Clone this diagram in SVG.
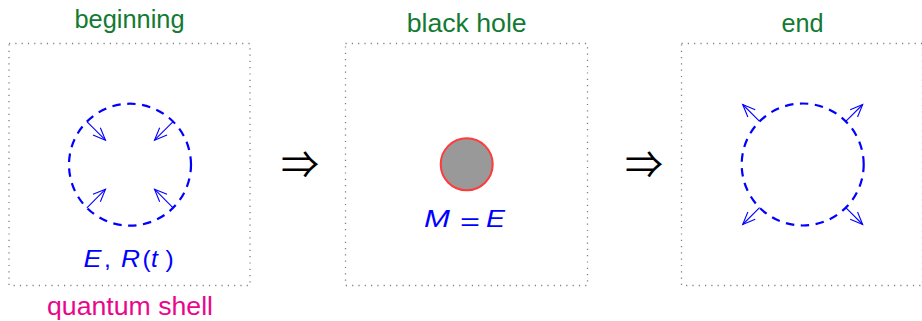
<svg xmlns="http://www.w3.org/2000/svg" width="922" height="321" viewBox="0 0 922 321">
<style>
.frame{fill:none;stroke:#808080;stroke-width:1.3;stroke-dasharray:1.2 5.1}
.title{font-family:"Liberation Sans",Arial,sans-serif;font-size:26.5px;fill:#127a32;text-anchor:middle}
.shell{fill:none;stroke:#0000ff;stroke-width:2.2;stroke-dasharray:8.5 6.5}
.arr{fill:none;stroke:#0000ff;stroke-width:1.1;marker-end:url(#head)}
.math{font-family:"Liberation Sans",Arial,sans-serif;font-size:24.5px;fill:#0000ff}
.it{font-style:italic}
.impl{font-family:"Noto Sans CJK JP","DejaVu Sans",sans-serif;font-size:38px;fill:#000;text-anchor:middle}
</style>
<defs>
<marker id="head" markerUnits="userSpaceOnUse" markerWidth="16" markerHeight="14" refX="13.5" refY="7" orient="auto">
<path d="M1,1.8 L13.5,7 L1,12.2" fill="none" stroke="#0000ff" stroke-width="1.1"/>
</marker>
</defs>

<g id="beginning">
<rect class="frame" x="9" y="43.5" width="241" height="242"/>
<text class="title" x="129.5" y="28.3" textLength="110" lengthAdjust="spacingAndGlyphs">beginning</text>
<path class="shell" d="M191,164.7 A61,61 0 0 0 69,164.7 A61,61 0 0 0 191,164.7"/>
<text class="math" y="267"><tspan class="it" x="83.5" textLength="18" lengthAdjust="spacingAndGlyphs">E</tspan><tspan x="104">,</tspan><tspan class="it" x="121" textLength="19" lengthAdjust="spacingAndGlyphs">R</tspan><tspan x="142.5">(</tspan><tspan class="it" x="151">t</tspan><tspan x="165.5">)</tspan></text>
<text class="title" x="130" y="315" style="fill:#e8078a" textLength="166" lengthAdjust="spacingAndGlyphs">quantum shell</text>
</g>

<g id="blackhole">
<rect class="frame" x="345.5" y="43.5" width="242" height="242"/>
<text class="title" x="466.7" y="32" textLength="120" lengthAdjust="spacingAndGlyphs">black hole</text>
<circle cx="466.7" cy="164.3" r="26" fill="#999999" stroke="#ff3b3b" stroke-width="2"/>
<text class="math" y="227.3"><tspan class="it" x="424" textLength="26" lengthAdjust="spacingAndGlyphs">M</tspan><tspan x="460" dy="3" textLength="20" lengthAdjust="spacingAndGlyphs">=</tspan><tspan class="it" x="486" dy="-3" textLength="19" lengthAdjust="spacingAndGlyphs">E</tspan></text>
</g>

<g id="end">
<rect class="frame" x="681.5" y="43.5" width="241" height="242"/>
<text class="title" x="802.5" y="32" textLength="42" lengthAdjust="spacingAndGlyphs">end</text>
<path class="shell" d="M863.7,164.5 A61,61 0 0 0 741.7,164.5 A61,61 0 0 0 863.7,164.5"/>
</g>

<g id="connectors">
<path class="arr" d="M86.9,121.6 L105.5,140.2"/>
<path class="arr" d="M173.1,121.6 L154.5,140.2"/>
<path class="arr" d="M86.9,207.8 L105.5,189.2"/>
<path class="arr" d="M173.1,207.8 L154.5,189.2"/>
<path class="arr" d="M759.6,121.4 L742.7,104.5"/>
<path class="arr" d="M845.8,121.4 L862.7,104.5"/>
<path class="arr" d="M759.6,207.6 L742.7,224.5"/>
<path class="arr" d="M845.8,207.6 L862.7,224.5"/>
<text class="impl" x="300" y="178">⇒</text>
<text class="impl" x="644" y="178">⇒</text>
</g>
</svg>
